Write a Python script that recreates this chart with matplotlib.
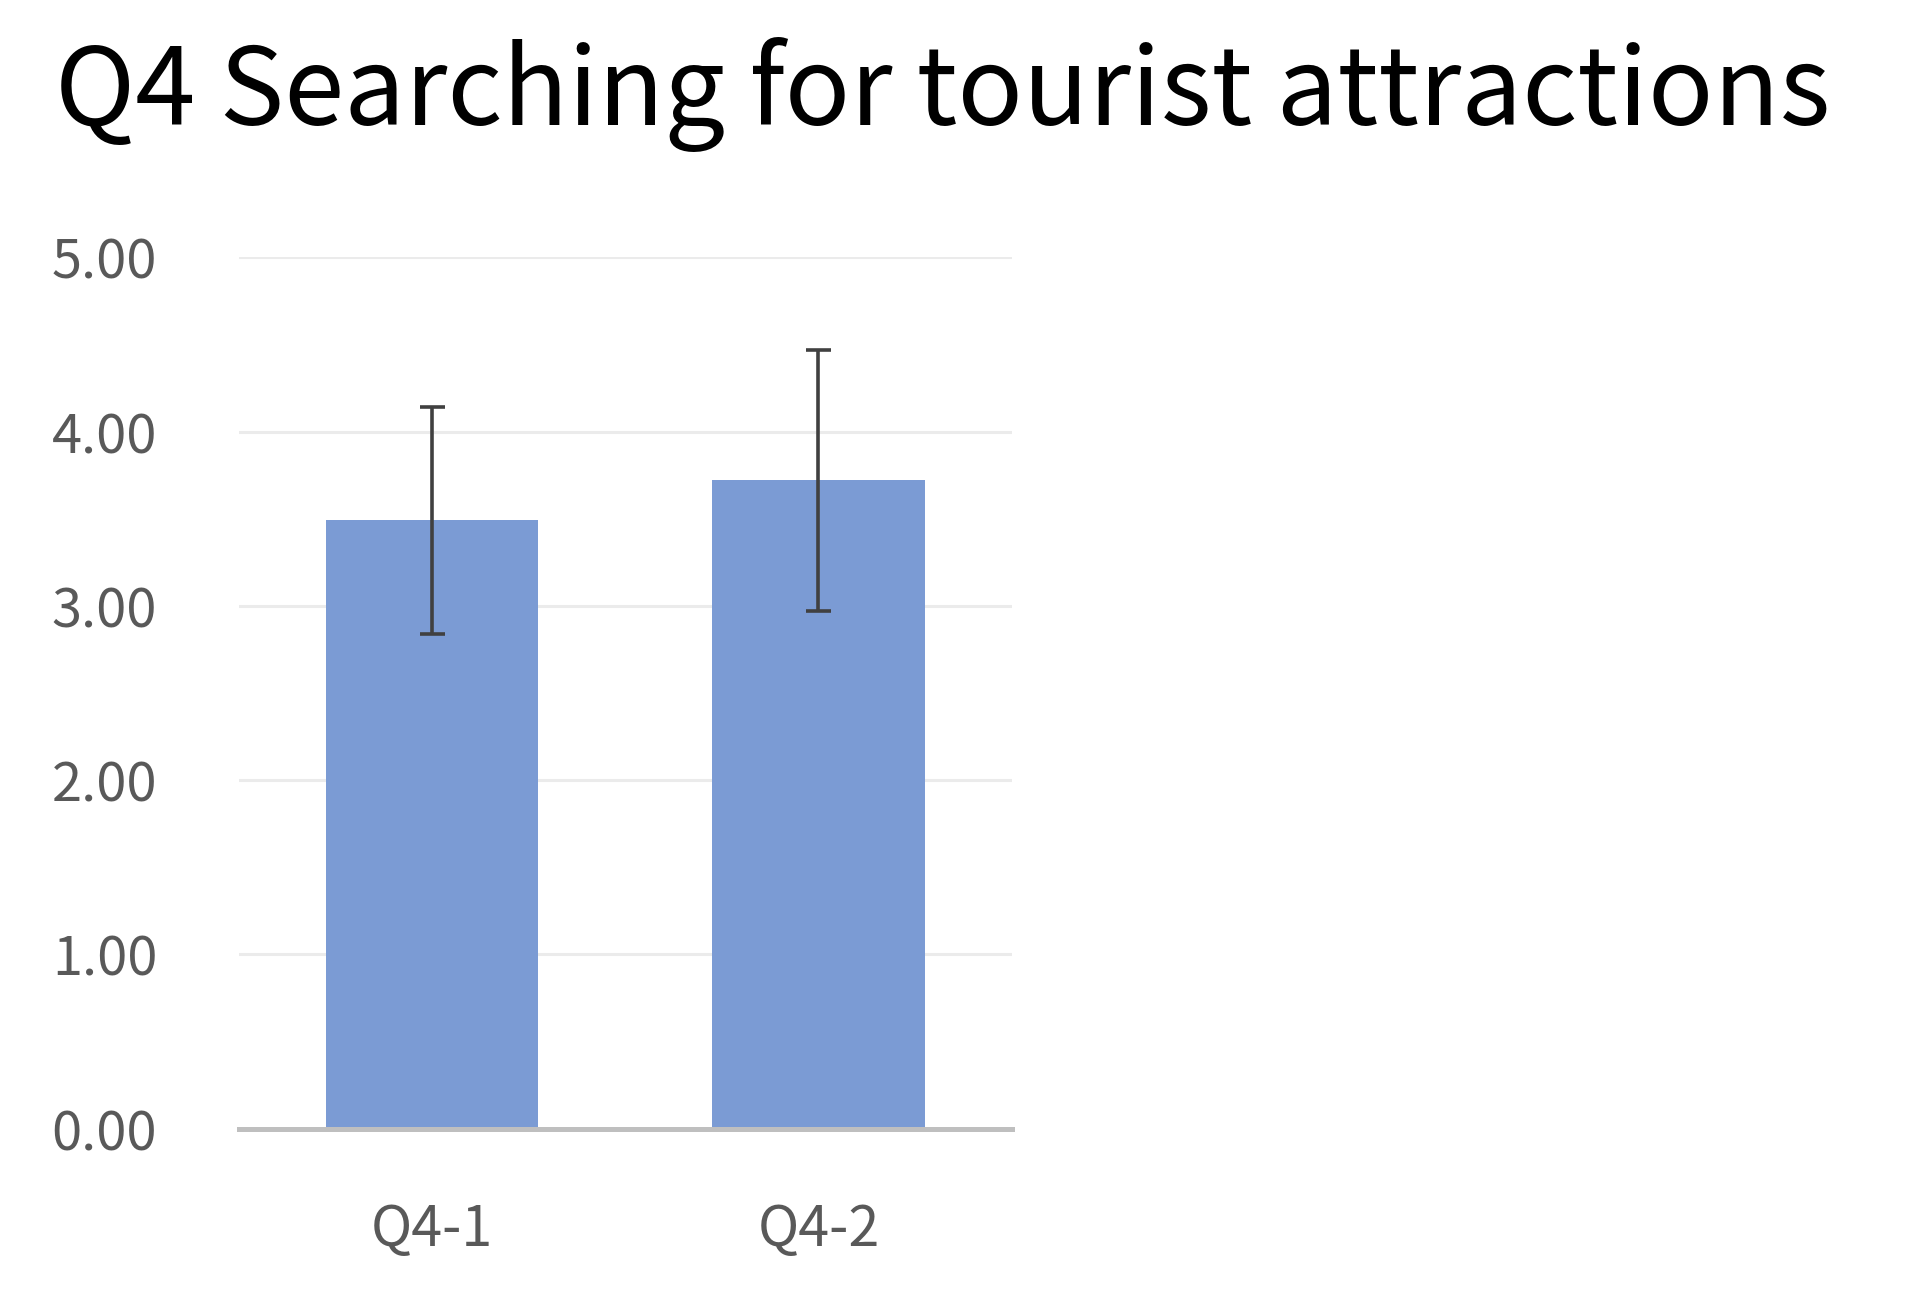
import matplotlib
matplotlib.use('Agg')
import matplotlib.pyplot as plt

categories = ['Q4-1', 'Q4-2']
means = [3.49, 3.72]
errors = [0.65, 0.75]
yticks = [0, 1, 2, 3, 4, 5]
title = 'Q4 Searching for tourist attractions'

plt.rcParams['font.family'] = ['Noto Sans CJK KR', 'DejaVu Sans']

fig = plt.figure(figsize=(19.05, 12.93), dpi=100)
ax = fig.add_axes([0.1255, 0.127, 0.4055, 0.674])

x = range(len(categories))
ax.bar(x, means, width=0.55, color='#7b9bd4', zorder=2)
ax.errorbar(x, means, yerr=errors, fmt='none', ecolor='#404040',
            elinewidth=2.6, capsize=9, capthick=2.6, zorder=3)

ax.set_xlim(-0.5, 1.5)
ax.set_ylim(0, 5)
ax.set_yticks(yticks)
ax.set_yticklabels(['%.2f' % v for v in yticks])
ax.set_xticks(list(x))
ax.set_xticklabels(categories)

ax.yaxis.grid(True, color='#ebebeb', linewidth=2.2, zorder=0)
ax.set_axisbelow(True)
for s in ['top', 'right', 'left']:
    ax.spines[s].set_visible(False)
ax.spines['bottom'].set_color('#bfbfbf')
ax.spines['bottom'].set_linewidth(3.6)
ax.spines['bottom'].set_zorder(4)

ax.tick_params(axis='y', length=0, pad=59, labelsize=39, labelcolor='#595959')
ax.tick_params(axis='x', length=0, pad=52, labelsize=40, labelcolor='#595959')

fig.text(0.029, 0.903, title, fontsize=78, color='black', va='baseline', ha='left')

fig.savefig('out.png', dpi=100, facecolor='white')
